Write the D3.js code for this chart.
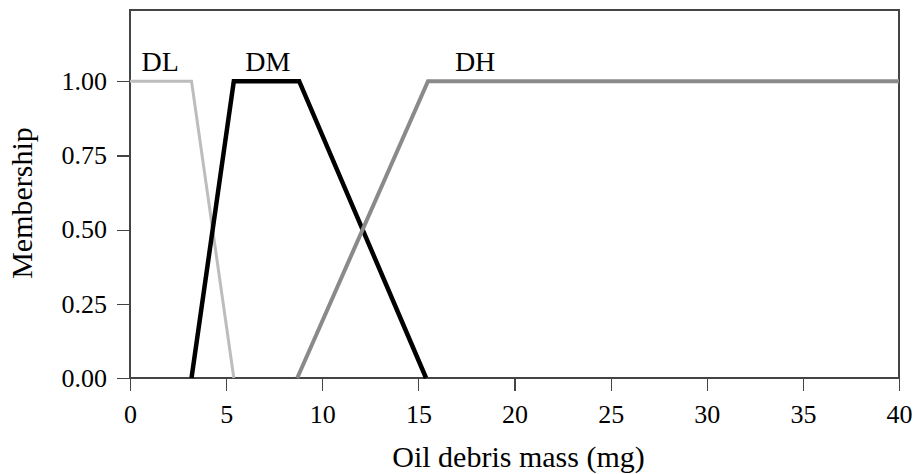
<!DOCTYPE html>
<html lang="en">
<head>
    <meta charset="UTF-8">
    <title>Oil debris membership functions</title>
    <script src="https://d3js.org/d3.v7.min.js"></script>
    <style>
        body { margin: 0; background: #fff; }
        svg text { font-family: "Liberation Serif", "Times New Roman", serif; fill: #000; }
        .axis path, .axis line { stroke: #444; stroke-width: 1.2px; shape-rendering: crispEdges; }
        .axis text { font-size: 26px; }
    </style>
</head>
<body>
    <svg id="chart"></svg>
    <script>
        // membership functions (x in mg, y membership)
        const dlPoints = [[0, 1], [3.2, 1], [5.4, 0]];
        const dmPoints = [[3.2, 0], [5.4, 1], [8.8, 1], [15.4, 0]];
        const dhPoints = [[8.7, 0], [15.5, 1], [40, 1]];
        const seriesNames = ["DL", "DM", "DH"];
        const labelAt = [[0.6, 1], [6.0, 1], [16.9, 1]];
        const xTicks = [0, 5, 10, 15, 20, 25, 30, 35, 40];
        const yTicks = [0, 0.25, 0.5, 0.75, 1];

        const W = 915, H = 474;
        const margin = { top: 10, right: 16, bottom: 96, left: 130 };
        const width = W - margin.left - margin.right;
        const height = H - margin.top - margin.bottom;

        const svg = d3.select("#chart").attr("width", W).attr("height", H);
        const g = svg.append("g").attr("transform", `translate(${margin.left},${margin.top})`);

        const x = d3.scaleLinear().domain([0, 40]).range([0, width]);
        const y = d3.scaleLinear().domain([0, 1.24]).range([height, 0]);

        // frame
        g.append("rect")
            .attr("width", width).attr("height", height)
            .attr("fill", "none").attr("stroke", "#444").attr("stroke-width", 1.2)
            .attr("shape-rendering", "crispEdges");

        // x axis
        const xAxis = g.append("g").attr("class", "axis")
            .attr("transform", `translate(0,${height})`)
            .call(d3.axisBottom(x).tickValues(xTicks).tickSize(13).tickSizeOuter(0).tickFormat(d3.format("d")));
        xAxis.selectAll("text").attr("y", 45).attr("dy", 0);

        // y axis
        const yAxis = g.append("g").attr("class", "axis")
            .call(d3.axisLeft(y).tickValues(yTicks).tickSize(13).tickSizeOuter(0).tickFormat(d3.format(".2f")));
        yAxis.selectAll("text").attr("x", -23);
        yAxis.select(".domain").attr("d", `M0,${height}V0`);

        // lines
        const line = d3.line().x(d => x(d[0])).y(d => y(d[1]));
        const styles = [
            { color: "#bdbdbd", w: 3 },
            { color: "#000", w: 4.5 },
            { color: "#8a8a8a", w: 4 }
        ];
        [dlPoints, dmPoints, dhPoints].forEach((pts, i) => {
            g.append("path")
                .datum(pts)
                .attr("d", line)
                .attr("fill", "none")
                .attr("stroke", styles[i].color)
                .attr("stroke-width", styles[i].w)
                .attr("stroke-linejoin", "miter");
        });

        // series labels
        g.selectAll(".series-label")
            .data(seriesNames)
            .enter().append("text")
            .attr("class", "series-label")
            .attr("x", (d, i) => x(labelAt[i][0]))
            .attr("y", (d, i) => y(labelAt[i][1]) - 10)
            .style("font-size", "28px")
            .text(d => d);

        // axis titles
        svg.append("text")
            .attr("x", margin.left + width / 2 + 4)
            .attr("y", 467)
            .attr("text-anchor", "middle")
            .style("font-size", "30px")
            .text("Oil debris mass (mg)");

        svg.append("text")
            .attr("transform", "translate(32,203) rotate(-90)")
            .attr("text-anchor", "middle")
            .style("font-size", "30px")
            .text("Membership");
    </script>
</body>
</html>
